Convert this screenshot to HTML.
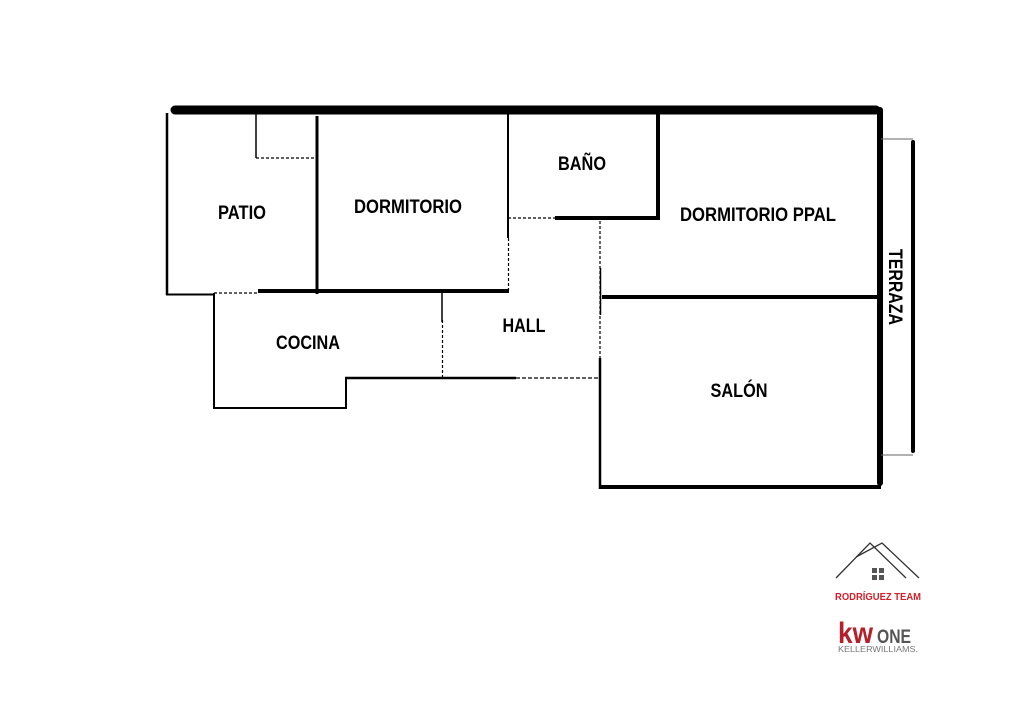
<!DOCTYPE html>
<html><head><meta charset="utf-8"><style>
html,body{margin:0;padding:0;background:#fff;}
svg{display:block}
text{font-family:"Liberation Sans",sans-serif;font-weight:bold;}
</style></head><body>
<svg width="1024" height="723" viewBox="0 0 1024 723" xmlns="http://www.w3.org/2000/svg">
<g stroke="#000" fill="none" stroke-linecap="butt">
<line x1="175" y1="110" x2="876" y2="110" stroke-width="9" stroke-linecap="round"/>
<line x1="167" y1="113" x2="167" y2="295" stroke-width="2.5"/>
<line x1="166" y1="294.5" x2="214" y2="294.5" stroke-width="2"/>
<line x1="214" y1="293" x2="258" y2="293" stroke-width="1.2" stroke-dasharray="3,2"/>
<line x1="256" y1="113" x2="256" y2="158" stroke-width="1.5"/>
<line x1="256" y1="158" x2="316" y2="158" stroke-width="1.2" stroke-dasharray="3,2"/>
<line x1="317" y1="116" x2="317" y2="294" stroke-width="3"/>
<line x1="258" y1="291" x2="509" y2="291" stroke-width="4"/>
<line x1="508" y1="113" x2="508" y2="238" stroke-width="2"/>
<line x1="508.5" y1="238" x2="508.5" y2="290" stroke-width="1.2" stroke-dasharray="3,2"/>
<line x1="508" y1="218" x2="555" y2="218" stroke-width="1.2" stroke-dasharray="3,2"/>
<line x1="555" y1="218" x2="660" y2="218" stroke-width="4"/>
<line x1="658" y1="113" x2="658" y2="220" stroke-width="4"/>
<line x1="600" y1="221" x2="600" y2="360" stroke-width="1.2" stroke-dasharray="3,2"/>
<line x1="600.5" y1="268" x2="600.5" y2="315" stroke-width="1.5"/>
<line x1="600" y1="358" x2="600" y2="489" stroke-width="2.5"/>
<line x1="442" y1="292" x2="442" y2="322" stroke-width="1.5"/>
<line x1="442.5" y1="320" x2="442.5" y2="378" stroke-width="1.2" stroke-dasharray="3,2"/>
<line x1="214" y1="293" x2="214" y2="409" stroke-width="2"/>
<line x1="213" y1="408" x2="347" y2="408" stroke-width="2"/>
<line x1="346" y1="377" x2="346" y2="409" stroke-width="2"/>
<line x1="345" y1="378" x2="516" y2="378" stroke-width="2.5"/>
<line x1="516" y1="378" x2="600" y2="378" stroke-width="1.2" stroke-dasharray="4,2"/>
<line x1="602" y1="297" x2="879" y2="297" stroke-width="4"/>
<line x1="600" y1="487" x2="881" y2="487" stroke-width="4"/>
<line x1="880" y1="110" x2="880" y2="483" stroke-width="6" stroke-linecap="round"/>
<line x1="881" y1="139" x2="913" y2="139" stroke-width="1" stroke="#666"/>
<line x1="881" y1="455" x2="913" y2="455" stroke-width="1" stroke="#666"/>
<line x1="913" y1="142" x2="913" y2="451" stroke-width="4" stroke-linecap="round"/>
</g>
<g font-size="19" fill="#000" text-anchor="middle">
<text x="242" y="219" textLength="48" lengthAdjust="spacingAndGlyphs">PATIO</text>
<text x="408" y="213" textLength="108" lengthAdjust="spacingAndGlyphs">DORMITORIO</text>
<text x="582" y="170" textLength="48" lengthAdjust="spacingAndGlyphs">BAÑO</text>
<text x="758" y="221" textLength="156" lengthAdjust="spacingAndGlyphs">DORMITORIO PPAL</text>
<text x="524" y="332" textLength="43" lengthAdjust="spacingAndGlyphs">HALL</text>
<text x="308" y="349" textLength="64" lengthAdjust="spacingAndGlyphs">COCINA</text>
<text x="739" y="397" textLength="57" lengthAdjust="spacingAndGlyphs">SALÓN</text>
<text x="0" y="0" transform="translate(889,287) rotate(90)" textLength="76" lengthAdjust="spacingAndGlyphs">TERRAZA</text>
</g>
<g stroke="#333" stroke-width="1.3" fill="none">
<polyline points="836,578 870,543 906,578"/>
<polyline points="856,557 882,543 919,578"/>
</g>
<g fill="#555">
<rect x="872" y="568" width="5" height="5"/><rect x="879" y="568" width="5" height="5"/>
<rect x="872" y="575" width="5" height="5"/><rect x="879" y="575" width="5" height="5"/>
</g>
<text x="878" y="600" font-size="10.5" fill="#d0202b" text-anchor="middle" textLength="86" lengthAdjust="spacingAndGlyphs">RODRÍGUEZ TEAM</text>
<text x="838" y="643" font-size="30" fill="#b51f2a" textLength="35" lengthAdjust="spacingAndGlyphs">kw</text>
<text x="877" y="643" font-size="19" fill="#555" textLength="34" lengthAdjust="spacingAndGlyphs">ONE</text>
<text x="838" y="652" font-size="8" fill="#777" style="font-weight:normal" textLength="80" lengthAdjust="spacingAndGlyphs">KELLERWILLIAMS.</text>
</svg>
</body></html>
